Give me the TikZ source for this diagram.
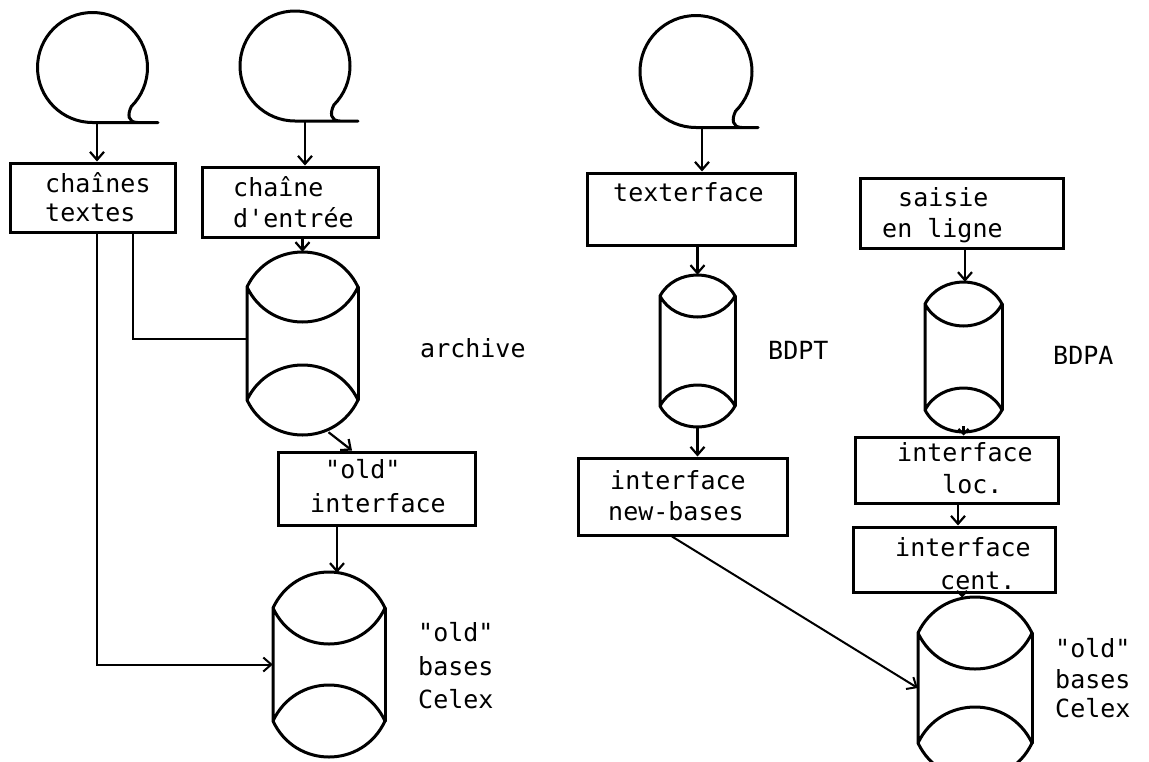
\documentclass[tikz,border=0pt]{standalone}
\usepackage{fontspec}
\newfontfamily\tw{DejaVu Sans Mono}
\usetikzlibrary{arrows.meta,calc}
\tikzset{
  shp/.style={line width=3pt, line join=round, line cap=round},
  boxst/.style={draw, line width=3pt, rectangle, inner sep=0pt},
  cylbox/.style={draw=none, rectangle, inner sep=0pt},
  bub/.style={draw=none, circle, inner sep=0pt},
  lbl/.style={font={\tw\fontsize{25}{30}\selectfont}, inner sep=0pt, anchor=mid west},
  arr/.style={line width=2.2pt, -{Straight Barb[length=8pt,width=14pt,line width=2.2pt]}},
  sarr/.style={line width=2.2pt, -{Straight Barb[length=5pt,width=10pt,line width=2.2pt]}},
  ln/.style={line width=2pt},
  larr/.style={line width=2pt, -{Straight Barb[length=8pt,width=14pt,line width=2pt]}}
}
\newcommand\dbcyl[6]{%
  \pgfmathsetmacro\cw{#3-#2}%
  \pgfmathsetmacro\chh{#6-#4}%
  \pgfmathsetmacro\cxm{(#2+#3)/2}%
  \pgfmathsetmacro\cym{(#4+#6)/2}%
  \pgfmathsetmacro\ca{#4+#5}%
  \pgfmathsetmacro\cb{#6-#5}%
  \pgfmathsetmacro\kk{4/3*#5}%
  \pgfmathsetmacro\ddx{0.2*\cw}%
  \node[cylbox, minimum width=\cw pt, minimum height=\chh pt] (#1) at (\cxm,\cym) {};
  \draw[shp] (#2,\ca) .. controls (#2+\ddx,\ca-\kk) and (#3-\ddx,\ca-\kk) .. (#3,\ca)
     .. controls (#3-\ddx,\ca+\kk) and (#2+\ddx,\ca+\kk) .. (#2,\ca) -- (#2,\cb)
     .. controls (#2+\ddx,\cb-\kk) and (#3-\ddx,\cb-\kk) .. (#3,\cb)
     .. controls (#3-\ddx,\cb+\kk) and (#2+\ddx,\cb+\kk) .. (#2,\cb);
  \draw[shp] (#3,\ca) -- (#3,\cb);
}
\newcommand\bubble[5]{%
  \pgfmathsetmacro\bd{2*#4}%
  \node[bub, minimum size=\bd pt] (#1) at (#2,#3) {};
  \draw[shp] (#5,#3+#4) -- (#2,#3+#4) arc[start angle=90, end angle=405, radius=#4]
     .. controls +(-4,8) and +(-10,0) .. (#2+0.82*#4,#3+#4);
}
\newcommand\bx[5]{%
  \pgfmathsetmacro\bw{#4-#2}%
  \pgfmathsetmacro\bh{#5-#3}%
  \node[boxst, minimum width=\bw pt, minimum height=\bh pt] (#1) at ({(#2+#4)/2},{(#3+#5)/2}) {};
}
\begin{document}
\begin{tikzpicture}[x=1pt,y=-1pt]
\useasboundingbox (0,0) rectangle (1149,761);
\clip (0,0) rectangle (1149,761);
\fill[white] (0,0) rectangle (1149,761);

% bubbles
\bubble{c1}{92.5}{67.5}{55}{158}
\bubble{c2}{295}{66}{55}{358}
\bubble{c3}{696}{71.5}{56}{758}

% boxes
\bx{b1}{10}{163}{175}{232}
\bx{b2}{202}{167}{378}{237}
\bx{oldif}{278}{452}{475}{525}
\bx{texter}{587}{173}{795}{245}
\bx{saisie}{860}{178}{1063}{248}
\bx{newb}{578}{458}{787}{535}
\bx{loc}{855}{437}{1058}{503}
\bx{cent}{853}{527}{1055}{592}

% cylinders
\dbcyl{arch}{247}{358}{252}{35}{435}
\dbcyl{ob1}{273}{385}{572}{36}{757}
\dbcyl{bdpt}{660}{735}{275}{21}{427}
\dbcyl{bdpa}{925}{1002}{282}{22}{432}
\dbcyl{ob2}{918}{1032}{597}{36}{779}

% box texts
\node[lbl] (t1a) at (45,190) {chaînes};
\node[lbl] (t1b) at (45,219) {textes};
\node[lbl] (t2a) at (233,194) {chaîne};
\node[lbl] (t2b) at (233,225) {d\textquotesingle entrée};
\node[lbl] (t3a) at (325,476) {"old"};
\node[lbl] (t3b) at (310,510) {interface};
\node[lbl] (t4) at (613,199) {texterface};
\node[lbl] (t5a) at (898,204) {saisie};
\node[lbl] (t5b) at (882,235) {en ligne};
\node[lbl] (t6a) at (610,487) {interface};
\node[lbl] (t6b) at (608,518) {new-bases};
\node[lbl] (t7a) at (897,459) {interface};
\node[lbl] (t7b) at (942,491) {loc.};
\node[lbl] (t8a) at (895,554) {interface};
\node[lbl] (t8b) at (940,587) {cent.};

% side labels
\node[lbl] (l1) at (420,355) {archive};
\node[lbl] (l2) at (768,357) {BDPT};
\node[lbl] (l3) at (1053,362) {BDPA};
\node[lbl] (l4a) at (418,639) {"old"};
\node[lbl] (l4b) at (418,673) {bases};
\node[lbl] (l4c) at (418,706) {Celex};
\node[lbl] (l5a) at (1055,655) {"old"};
\node[lbl] (l5b) at (1055,686) {bases};
\node[lbl] (l5c) at (1055,715) {Celex};

% connectors
\draw[arr] ([xshift=4.5pt]c1.south) -- ([xshift=4.5pt]c1.south |- b1.north);
\draw[arr] ([xshift=10pt]c2.south) -- ([xshift=10pt]c2.south |- b2.north);
\draw[arr] (arch.north |- b2.south) -- (arch.north);
\draw[ln] ([xshift=40.5pt]b1.south) |- ([yshift=5pt]arch.west);
\draw[larr] ([xshift=4.5pt]b1.south) |- (ob1.west);
\draw[arr] ([xshift=26pt,yshift=3pt]arch.south) -- ([xshift=-24.5pt]oldif.north);
\draw[arr] ([xshift=8pt]ob1.north |- oldif.south) -- ([xshift=8pt,yshift=-1pt]ob1.north);
\draw[arr] ([xshift=6pt]c3.south) -- ([xshift=6pt]c3.south |- texter.north);
\draw[arr] (bdpt.north |- texter.south) -- (bdpt.north);
\draw[arr] (bdpt.south) -- (bdpt.south |- newb.north);
\draw[larr] ([xshift=-10.5pt]newb.south) -- (ob2.west);
\draw[arr] ([xshift=3.5pt]saisie.south) -- ([xshift=3.5pt]saisie.south |- bdpa.north);
\draw[sarr] ([yshift=6pt]bdpa.south) -- (bdpa.south |- loc.north);
\draw[arr] ([xshift=1.5pt]loc.south) -- ([xshift=1.5pt]loc.south |- cent.north);
\draw[sarr] ([xshift=8pt]cent.south) -- ([xshift=8pt,yshift=-4pt]cent.south);
\end{tikzpicture}
\end{document}
